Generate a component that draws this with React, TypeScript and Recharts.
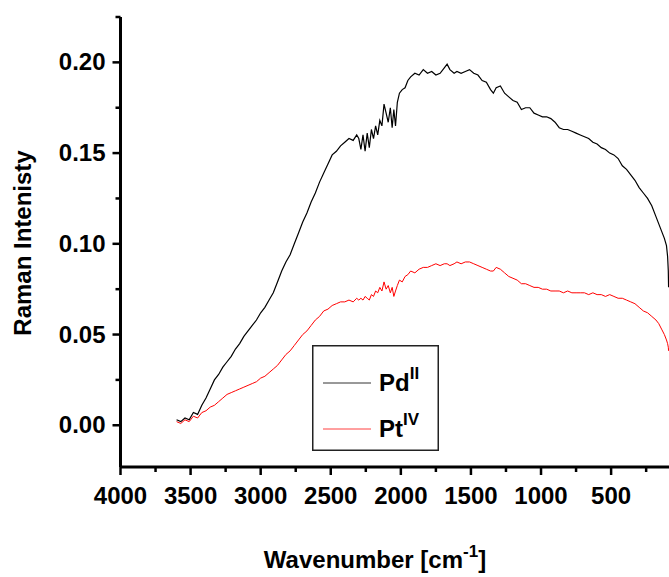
import { LineChart, Line, XAxis, YAxis, Legend } from 'recharts';

// [wavenumber cm-1, intensity]
const PD_SPECTRUM: [number, number][] = [
  [3600, 0.003], [3570, 0.002], [3540, 0.004], [3510, 0.003], [3480, 0.007], [3450, 0.006],
  [3420, 0.011], [3390, 0.015], [3360, 0.020], [3330, 0.025], [3300, 0.028], [3270, 0.032],
  [3240, 0.035], [3210, 0.038], [3180, 0.042], [3150, 0.045], [3120, 0.049], [3090, 0.052],
  [3060, 0.055], [3030, 0.058], [3000, 0.062], [2970, 0.065], [2940, 0.069], [2910, 0.073],
  [2880, 0.079], [2850, 0.085], [2820, 0.090], [2790, 0.094], [2760, 0.100], [2730, 0.106],
  [2700, 0.112], [2670, 0.117], [2640, 0.123], [2610, 0.128], [2580, 0.134], [2550, 0.139],
  [2520, 0.144], [2490, 0.149], [2460, 0.151], [2430, 0.154], [2400, 0.156], [2370, 0.158],
  [2340, 0.157], [2315, 0.160], [2300, 0.158], [2285, 0.152], [2270, 0.160], [2255, 0.151],
  [2240, 0.161], [2225, 0.153], [2210, 0.163], [2195, 0.158], [2180, 0.165], [2165, 0.160],
  [2150, 0.168], [2135, 0.165], [2120, 0.177], [2105, 0.172], [2090, 0.167], [2075, 0.175],
  [2062, 0.164], [2050, 0.174], [2038, 0.165], [2025, 0.178], [2010, 0.183], [1990, 0.185],
  [1970, 0.186], [1950, 0.190], [1930, 0.192], [1900, 0.194], [1870, 0.193], [1840, 0.196],
  [1810, 0.194], [1780, 0.195], [1750, 0.193], [1720, 0.194], [1690, 0.197], [1670, 0.199],
  [1650, 0.196], [1620, 0.194], [1600, 0.195], [1570, 0.194], [1540, 0.195], [1510, 0.196],
  [1480, 0.194], [1450, 0.193], [1420, 0.190], [1390, 0.189], [1360, 0.185], [1340, 0.183],
  [1320, 0.186], [1290, 0.187], [1260, 0.183], [1230, 0.181], [1200, 0.179], [1170, 0.178],
  [1140, 0.174], [1110, 0.175], [1080, 0.175], [1050, 0.172], [1020, 0.171], [990, 0.170],
  [960, 0.170], [930, 0.169], [900, 0.167], [870, 0.164], [840, 0.163], [810, 0.163],
  [780, 0.162], [750, 0.161], [720, 0.160], [690, 0.159], [660, 0.158], [630, 0.156],
  [600, 0.155], [570, 0.153], [540, 0.152], [510, 0.150], [480, 0.149], [450, 0.147],
  [420, 0.143], [390, 0.141], [360, 0.138], [330, 0.135], [300, 0.131], [270, 0.128],
  [240, 0.125], [210, 0.121], [180, 0.115], [160, 0.111], [140, 0.107], [120, 0.103],
  [105, 0.099], [97, 0.093], [92, 0.085], [90, 0.076],
];

const PT_SPECTRUM: [number, number][] = [
  [3600, 0.002], [3570, 0.001], [3540, 0.003], [3510, 0.002], [3480, 0.005], [3450, 0.004],
  [3420, 0.007], [3390, 0.008], [3360, 0.010], [3330, 0.011], [3300, 0.013], [3270, 0.015],
  [3240, 0.017], [3210, 0.018], [3180, 0.019], [3150, 0.020], [3120, 0.021], [3090, 0.022],
  [3060, 0.023], [3030, 0.024], [3000, 0.026], [2970, 0.027], [2940, 0.029], [2910, 0.031],
  [2880, 0.033], [2850, 0.036], [2820, 0.039], [2790, 0.041], [2760, 0.044], [2730, 0.047],
  [2700, 0.050], [2670, 0.052], [2640, 0.055], [2610, 0.058], [2580, 0.060], [2550, 0.063],
  [2520, 0.064], [2490, 0.066], [2460, 0.067], [2430, 0.068], [2400, 0.068], [2370, 0.069],
  [2340, 0.068], [2315, 0.070], [2300, 0.069], [2285, 0.070], [2270, 0.069], [2255, 0.071],
  [2240, 0.070], [2225, 0.069], [2210, 0.072], [2195, 0.071], [2180, 0.074], [2165, 0.073],
  [2150, 0.076], [2135, 0.074], [2120, 0.079], [2105, 0.075], [2090, 0.077], [2075, 0.073],
  [2062, 0.076], [2050, 0.071], [2038, 0.074], [2025, 0.077], [2010, 0.080], [1990, 0.079],
  [1970, 0.082], [1950, 0.083], [1930, 0.085], [1900, 0.084], [1870, 0.086], [1840, 0.087],
  [1810, 0.087], [1780, 0.088], [1750, 0.089], [1720, 0.088], [1690, 0.089], [1670, 0.089],
  [1650, 0.088], [1620, 0.089], [1600, 0.090], [1570, 0.089], [1540, 0.090], [1510, 0.090],
  [1480, 0.089], [1450, 0.088], [1420, 0.087], [1390, 0.086], [1360, 0.085], [1340, 0.085],
  [1320, 0.087], [1290, 0.086], [1260, 0.084], [1230, 0.082], [1200, 0.081], [1170, 0.080],
  [1140, 0.078], [1110, 0.078], [1080, 0.077], [1050, 0.076], [1020, 0.076], [990, 0.075],
  [960, 0.075], [930, 0.074], [900, 0.074], [870, 0.074], [840, 0.073], [810, 0.074],
  [780, 0.073], [750, 0.073], [720, 0.073], [690, 0.073], [660, 0.072], [630, 0.073],
  [600, 0.072], [570, 0.072], [540, 0.071], [510, 0.072], [480, 0.071], [450, 0.070],
  [420, 0.070], [390, 0.069], [360, 0.068], [330, 0.067], [300, 0.065], [270, 0.063],
  [240, 0.062], [210, 0.060], [180, 0.058], [160, 0.056], [140, 0.053], [120, 0.050],
  [105, 0.047], [97, 0.045], [92, 0.043], [90, 0.041],
];

const X_TICKS = [4000, 3750, 3500, 3250, 3000, 2750, 2500, 2250, 2000, 1750, 1500, 1250, 1000, 750, 500, 250];
const X_LABELS = [4000, 3500, 3000, 2500, 2000, 1500, 1000, 500];
const Y_TICKS = [0, 0.025, 0.05, 0.075, 0.1, 0.125, 0.15, 0.175, 0.2, 0.225];
const Y_LABELS = [0, 0.05, 0.1, 0.15, 0.2];

const FONT = '"Liberation Sans", Arial, sans-serif';

const pdData = PD_SPECTRUM.map(([wn, v]) => ({ wn, v }));
const ptData = PT_SPECTRUM.map(([wn, v]) => ({ wn, v }));

function XTick(props: any) {
  const { x, y, payload } = props;
  const major = X_LABELS.includes(payload.value);
  return (
    <g>
      <line x1={x} x2={x} y1={y} y2={y + (major ? 8 : 5)} stroke="#000" strokeWidth={2.5} />
      {major && (
        <text x={x} y={y + 37} textAnchor="middle" fontSize={24} fontWeight="bold" fontFamily={FONT} fill="#000">
          {payload.value}
        </text>
      )}
    </g>
  );
}

function YTick(props: any) {
  const { x, y, payload } = props;
  const major = Y_LABELS.includes(payload.value);
  return (
    <g>
      <line x1={x - (major ? 8 : 5)} x2={x} y1={y} y2={y} stroke="#000" strokeWidth={2.5} />
      {major && (
        <text x={x - 15} y={y + 8} textAnchor="end" fontSize={24} fontWeight="bold" fontFamily={FONT} fill="#000">
          {payload.value.toFixed(2)}
        </text>
      )}
    </g>
  );
}

// page coordinates (chart is pinned to the top-left corner)
const XTitle = () => (
  <text x={375} y={568} textAnchor="middle" fontSize={24} fontWeight="bold" fontFamily={FONT} fill="#000">
    Wavenumber [cm
    <tspan fontSize={17} dy={-11}>-1</tspan>
    <tspan dy={11}>]</tspan>
  </text>
);

const YTitle = () => (
  <text
    x={22}
    y={243}
    transform="rotate(-90, 22, 243)"
    textAnchor="middle"
    dominantBaseline="central"
    fontSize={24}
    fontWeight="bold"
    fontFamily={FONT}
    fill="#000"
  >
    Raman Intenisty
  </text>
);

function LegendBox() {
  return (
    <svg width={127} height={106} style={{ display: 'block' }}>
      <rect x={0.75} y={0.75} width={125.5} height={104.5} fill="#fff" stroke="#222" strokeWidth={1.5} />
      <line x1={11} x2={59} y1={38} y2={38} stroke="#333" strokeWidth={1} />
      <text x={67} y={46} fontSize={24} fontWeight="bold" fontFamily={FONT} fill="#000">
        Pd<tspan fontSize={17} dy={-12}>II</tspan>
      </text>
      <line x1={11} x2={59} y1={84} y2={84} stroke="#ff4040" strokeWidth={1} />
      <text x={67} y={92} fontSize={24} fontWeight="bold" fontFamily={FONT} fill="#000">
        Pt<tspan fontSize={17} dy={-12}>IV</tspan>
      </text>
    </svg>
  );
}

export default function App() {
  return (
    <div style={{ position: 'absolute', left: 0, top: 0, width: 669, height: 577, overflow: 'hidden' }}>
      <LineChart width={669} height={577} margin={{ top: 17, right: 0, bottom: 0, left: 0 }}>
        <XAxis
          type="number"
          dataKey="wn"
          reversed
          domain={[87, 4000]}
          allowDataOverflow
          ticks={X_TICKS}
          interval={0}
          tickSize={0}
          tickMargin={0}
          tick={<XTick />}
          height={110}
          axisLine={{ stroke: '#000', strokeWidth: 3 }}
          label={<XTitle />}
        />
        <YAxis
          type="number"
          domain={[-0.023, 0.225]}
          allowDataOverflow
          ticks={Y_TICKS}
          interval={0}
          tickSize={0}
          tickMargin={0}
          tick={<YTick />}
          width={120.5}
          axisLine={{ stroke: '#000', strokeWidth: 3 }}
          label={<YTitle />}
        />
        <Legend
          layout="horizontal"
          verticalAlign="middle"
          align="center"
          wrapperStyle={{ left: 312, top: 345, width: 127, height: 106 }}
          content={() => <LegendBox />}
        />
        <Line data={pdData} dataKey="v" name="PdII" stroke="#000" strokeWidth={1.2} dot={false} isAnimationActive={false} />
        <Line data={ptData} dataKey="v" name="PtIV" stroke="#ff0000" strokeWidth={1} dot={false} isAnimationActive={false} />
      </LineChart>
    </div>
  );
}
